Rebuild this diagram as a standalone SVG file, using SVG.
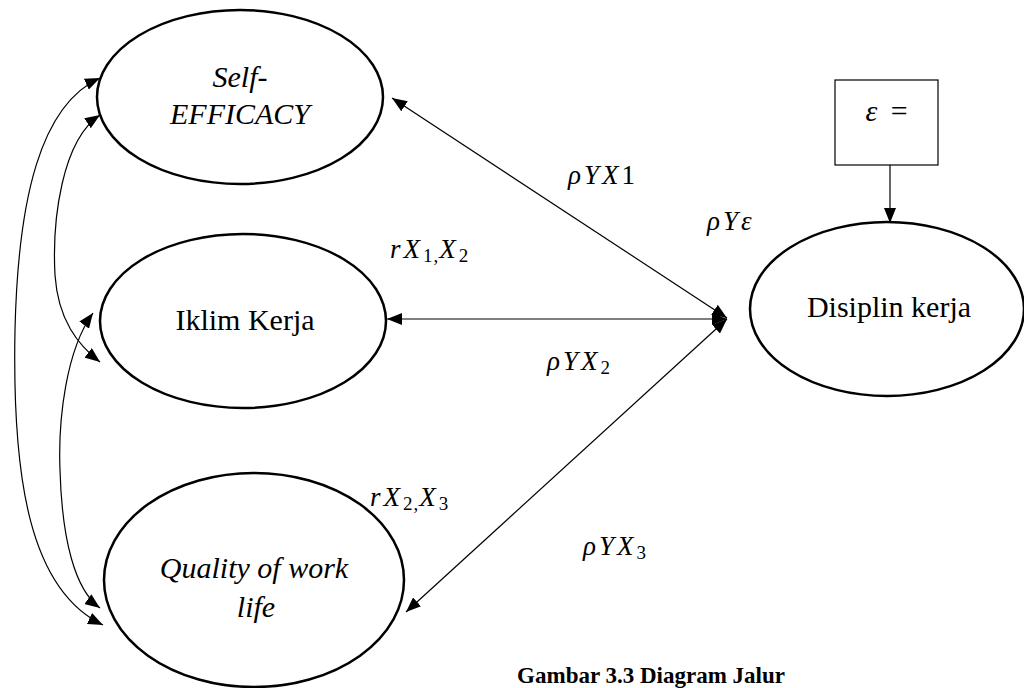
<svg xmlns="http://www.w3.org/2000/svg" width="1024" height="688" viewBox="0 0 1024 688">
<style>
.node{fill:#fff;stroke:#000;stroke-width:2.5}
.con{fill:none;stroke:#000;stroke-width:1.2}
.lbl{font-family:'Liberation Serif','Times New Roman',serif;font-size:30px;fill:#000;text-anchor:middle}
.it{font-style:italic}
.math{font-family:'Liberation Serif','Times New Roman',serif;font-size:27px;font-style:italic;fill:#000;letter-spacing:3px}
.sub{font-size:19px;font-style:normal;letter-spacing:1px}
.num{font-style:normal}
.cap{font-family:'Liberation Serif','Times New Roman',serif;font-size:23px;font-weight:bold;fill:#000;text-anchor:end}
</style>
<defs>
<marker id="ah" markerUnits="userSpaceOnUse" markerWidth="16" markerHeight="12" refX="15" refY="6" orient="auto-start-reverse">
<path d="M0,0 L15,6 L0,12 Z" fill="#000"/>
</marker>
</defs>
<rect width="1024" height="688" fill="#fff"/>
<g id="connectors">
<line class="con" x1="727" y1="318" x2="392" y2="98" marker-start="url(#ah)" marker-end="url(#ah)"/>
<line class="con" x1="727" y1="319" x2="387" y2="319" marker-start="url(#ah)" marker-end="url(#ah)"/>
<line class="con" x1="727" y1="319" x2="406" y2="612" marker-start="url(#ah)" marker-end="url(#ah)"/>
<line class="con" x1="890" y1="157" x2="890" y2="223" marker-end="url(#ah)"/>
<path class="con" d="M100,78 C40,105 18,200 15,330 C12,480 30,590 103,625" marker-start="url(#ah)" marker-end="url(#ah)"/>
<path class="con" d="M100,115 C62,140 52,220 55,275 C58,320 78,345 100,362" marker-start="url(#ah)" marker-end="url(#ah)"/>
<path class="con" d="M93,313 C66,350 58,420 60,470 C62,540 75,590 100,608" marker-start="url(#ah)" marker-end="url(#ah)"/>
</g>
<g id="self-efficacy">
<ellipse class="node" cx="240" cy="97" rx="143" ry="87"/>
<text class="lbl it" x="240" y="87">Self-</text>
<text class="lbl it" x="240" y="124">EFFICACY</text>
</g>
<g id="iklim-kerja">
<ellipse class="node" cx="243" cy="321" rx="143" ry="87"/>
<text class="lbl" x="245" y="330">Iklim Kerja</text>
</g>
<g id="quality">
<ellipse class="node" cx="254" cy="580" rx="150" ry="107"/>
<text class="lbl it" x="254" y="578">Quality of work</text>
<text class="lbl it" x="256" y="617">life</text>
</g>
<g id="disiplin-kerja">
<ellipse class="node" cx="887" cy="309" rx="137" ry="87"/>
<text class="lbl" x="889" y="317">Disiplin kerja</text>
</g>
<g id="epsilon-box">
<rect x="835" y="80" width="103" height="85" fill="#fff" stroke="#000" stroke-width="1.2"/>
<text class="math" x="888" y="121" text-anchor="middle" font-size="30" style="font-size:30px">ε <tspan class="num">=</tspan></text>
</g>
<g id="labels">
<text class="math" x="568" y="184">ρYX<tspan class="num">1</tspan></text>
<text class="math" x="390" y="258">rX<tspan class="sub" dy="4">1,</tspan><tspan dy="-4">X</tspan><tspan class="sub" dy="4">2</tspan></text>
<text class="math" x="547" y="370">ρYX<tspan class="sub" dy="4">2</tspan></text>
<text class="math" x="707" y="230">ρYε</text>
<text class="math" x="370" y="506">rX<tspan class="sub" dy="4">2,</tspan><tspan dy="-4">X</tspan><tspan class="sub" dy="4">3</tspan></text>
<text class="math" x="583" y="555">ρYX<tspan class="sub" dy="4">3</tspan></text>
</g>
<text id="caption" class="cap" x="785" y="683">Gambar 3.3 Diagram Jalur</text>
</svg>
